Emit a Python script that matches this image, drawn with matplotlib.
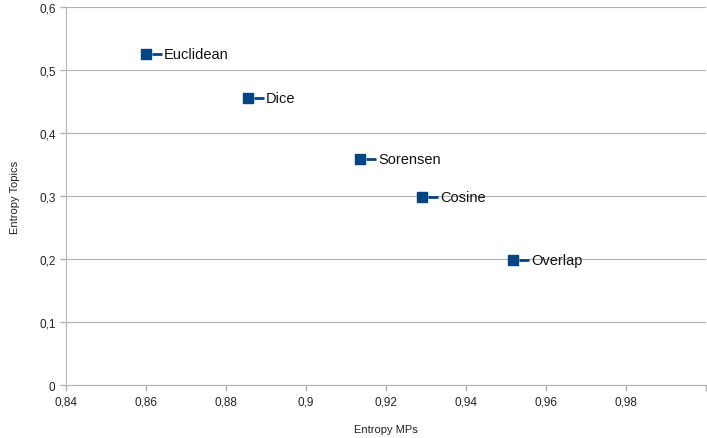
import matplotlib.pyplot as plt
import matplotlib.transforms as mtransforms

plt.rcParams['font.family'] = ['Liberation Sans', 'DejaVu Sans']

# データ
names = ["Euclidean", "Dice", "Sorensen", "Cosine", "Overlap"]
entropy_mps = [0.860, 0.8855, 0.9135, 0.929, 0.9518]
entropy_topics = [0.525, 0.456, 0.358, 0.298, 0.198]

x_ticks = [0.84, 0.86, 0.88, 0.9, 0.92, 0.94, 0.96, 0.98, 1.0]
x_labels = ["0,84", "0,86", "0,88", "0,9", "0,92", "0,94", "0,96", "0,98", ""]
y_ticks = [0, 0.1, 0.2, 0.3, 0.4, 0.5, 0.6]
y_labels = ["0", "0,1", "0,2", "0,3", "0,4", "0,5", "0,6"]

blue = "#004586"

fig = plt.figure(figsize=(7.07, 4.39), dpi=100)
ax = fig.add_axes([0.0934, 0.1207, 0.9052, 0.8611])

ax.scatter(entropy_mps, entropy_topics, marker="s", s=50, color=blue, zorder=3)

# ラベル横の短い線
dash_tr = mtransforms.offset_copy(ax.transData, fig=fig, x=11, y=0, units="dots")
ax.plot(entropy_mps, entropy_topics, linestyle="none", marker="_", markersize=6.5,
        markeredgewidth=2, color=blue, transform=dash_tr, zorder=3)

for n, xv, yv in zip(names, entropy_mps, entropy_topics):
    ax.annotate(n, (xv, yv), xytext=(13, 0), textcoords="offset points",
                va="center", ha="left", fontsize=10.5, color="#111111")

ax.set_xlim(0.84, 1.0)
ax.set_ylim(0, 0.6)
ax.set_xticks(x_ticks)
ax.set_xticklabels(x_labels)
ax.set_yticks(y_ticks)
ax.set_yticklabels(y_labels)
ax.tick_params(labelsize=8.5, colors="#b3b3b3", labelcolor="#222222", length=4, width=1)
ax.yaxis.grid(True, color="#b3b3b3", linewidth=0.8)
ax.set_axisbelow(True)

for s in ["top", "right"]:
    ax.spines[s].set_visible(False)
for s in ["left", "bottom"]:
    ax.spines[s].set_color("#b3b3b3")

ax.set_xlabel("Entropy MPs", fontsize=8, color="#222222", labelpad=12)
ax.set_ylabel("Entropy Topics", fontsize=8, color="#222222", labelpad=14)

fig.savefig("out.png", dpi=100)
